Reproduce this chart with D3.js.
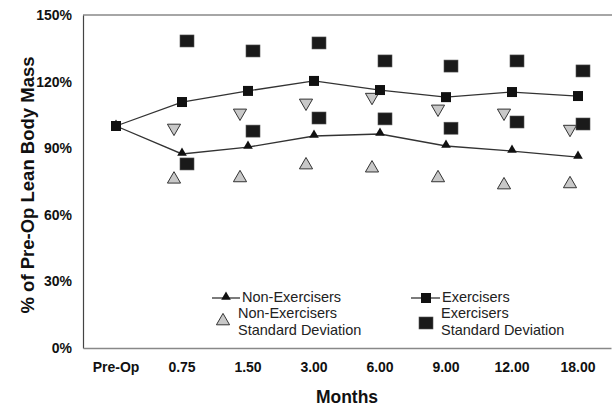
<!DOCTYPE html>
<html>
<head>
<meta charset="utf-8">
<script src="https://cdn.jsdelivr.net/npm/d3@7"></script>
<style>
  body { margin: 0; background: #fff; }
  svg { display: block; font-family: "Liberation Sans", Arial, sans-serif; }
</style>
</head>
<body>
<svg id="chart" width="612" height="406"></svg>
<script>
const width = 612, height = 406;

const months = ["Pre-Op", "0.75", "1.50", "3.00", "6.00", "9.00", "12.00", "18.00"];
const yTicks = [0, 30, 60, 90, 120, 150];

const nonExercisers = [100, 87.4, 90.5, 95.5, 96.4, 91, 88.7, 86];
const exercisers = [100, 110.8, 115.8, 120.3, 116.2, 113, 115.3, 113.5];

// standard deviation markers (no Pre-Op value)
const nonExSdUpper = [null, 99.1, 105.9, 110.4, 113, 107.7, 105.9, 98.6];
const nonExSdLower = [null, 76, 76.6, 82.4, 81, 76.6, 73.4, 73.9];
const exSdUpper = [null, 138.3, 133.8, 137.4, 129.3, 127, 129.3, 124.8];
const exSdLower = [null, 82.9, 97.7, 103.6, 103.2, 99, 101.8, 100.9];

const margin = {left: 83, top: 15, bottom: 58};
const plotBottom = height - margin.bottom;

const svg = d3.select("#chart");

const x = d3.scaleBand()
    .domain(months)
    .range([margin.left, margin.left + 66 * months.length])
    .padding(0);

const y = d3.scaleLinear()
    .domain([0, 150])
    .range([plotBottom, margin.top]);

const cx = m => x(m) + x.bandwidth() / 2;

// frame: top border, left axis, bottom axis
svg.append("line")
    .attr("x1", margin.left).attr("x2", width)
    .attr("y1", y(150)).attr("y2", y(150))
    .attr("stroke", "#888").attr("stroke-width", 1.5);

svg.append("g")
    .attr("transform", `translate(${margin.left},0)`)
    .call(d3.axisLeft(y).tickValues(yTicks).tickSize(0).tickPadding(11).tickFormat(d => d + "%"))
    .call(g => g.select(".domain").attr("stroke", "#444").attr("stroke-width", 1.2))
    .call(g => g.selectAll("text")
        .attr("font-size", "14px").attr("font-weight", "bold")
        .attr("font-family", "Liberation Sans, Arial, sans-serif").attr("fill", "#111"));

svg.append("g")
    .attr("transform", `translate(0,${plotBottom})`)
    .call(d3.axisBottom(x).tickSize(0).tickPadding(14))
    .call(g => g.select(".domain").attr("stroke", "#888").attr("stroke-width", 1.5))
    .call(g => g.selectAll("text")
        .attr("font-size", "14px").attr("font-weight", "bold")
        .attr("font-family", "Liberation Sans, Arial, sans-serif").attr("fill", "#111"));

// axis titles
svg.append("text")
    .attr("transform", "translate(34,185) rotate(-90)")
    .attr("text-anchor", "middle")
    .attr("font-size", "18.5px").attr("font-weight", "bold").attr("fill", "#111")
    .text("% of Pre-Op Lean Body Mass");

svg.append("text")
    .attr("x", 347).attr("y", 403)
    .attr("text-anchor", "middle")
    .attr("font-size", "17.5px").attr("font-weight", "bold").attr("fill", "#111")
    .text("Months");

const triUp = d3.symbol().type(d3.symbolTriangle);
function triPath(size) { return triUp.size(size)(); }

// SD markers
function sdTriangles(vals, flip) {
    svg.append("g").selectAll("path")
        .data(months.map((m, i) => ({m, v: vals[i]})).filter(d => d.v != null))
        .join("path")
        .attr("d", triPath(75))
        .attr("transform", d => `translate(${cx(d.m) - 8},${y(d.v)})` + (flip ? " rotate(180)" : ""))
        .attr("fill", "#c8c8c8").attr("stroke", "#333").attr("stroke-width", 1);
}
function sdSquares(vals) {
    svg.append("g").selectAll("rect")
        .data(months.map((m, i) => ({m, v: vals[i]})).filter(d => d.v != null))
        .join("rect")
        .attr("x", d => cx(d.m) + 5 - 7).attr("y", d => y(d.v) - 6)
        .attr("width", 14).attr("height", 12)
        .attr("fill", "#1a1a1a").attr("stroke", "#555").attr("stroke-width", 0.6);
}
sdTriangles(nonExSdUpper, true);
sdTriangles(nonExSdLower, false);
sdSquares(exSdUpper);
sdSquares(exSdLower);

// lines
const line = d3.line().x((d, i) => cx(months[i])).y(d => y(d));

svg.append("path").datum(nonExercisers)
    .attr("d", line).attr("fill", "none").attr("stroke", "#333").attr("stroke-width", 1.3);
svg.append("path").datum(exercisers)
    .attr("d", line).attr("fill", "none").attr("stroke", "#333").attr("stroke-width", 1.3);

svg.append("g").selectAll("path")
    .data(nonExercisers)
    .join("path")
    .attr("d", triPath(40))
    .attr("transform", (d, i) => `translate(${cx(months[i])},${y(d) - 1})`)
    .attr("fill", "#111");

svg.append("g").selectAll("rect")
    .data(exercisers)
    .join("rect")
    .attr("x", (d, i) => cx(months[i]) - 5).attr("y", d => y(d) - 5)
    .attr("width", 10).attr("height", 10)
    .attr("fill", "#111");

// legend
const legend = svg.append("g").attr("font-size", "14.5px").attr("fill", "#222");

legend.append("line").attr("x1", 212).attr("x2", 240).attr("y1", 298).attr("y2", 298)
    .attr("stroke", "#333").attr("stroke-width", 1.3);
legend.append("path").attr("d", triPath(40)).attr("transform", "translate(226,297)").attr("fill", "#111");
legend.append("text").attr("x", 242).attr("y", 302).text("Non-Exercisers");

legend.append("line").attr("x1", 411).attr("x2", 440).attr("y1", 298).attr("y2", 298)
    .attr("stroke", "#333").attr("stroke-width", 1.3);
legend.append("rect").attr("x", 421).attr("y", 293).attr("width", 10).attr("height", 10).attr("fill", "#111");
legend.append("text").attr("x", 442).attr("y", 302).text("Exercisers");

legend.append("path").attr("d", triPath(75)).attr("transform", "translate(223,321)")
    .attr("fill", "#c8c8c8").attr("stroke", "#333").attr("stroke-width", 1);
legend.append("text").attr("x", 238).attr("y", 318).text("Non-Exercisers");
legend.append("text").attr("x", 238).attr("y", 335).text("Standard Deviation");

legend.append("rect").attr("x", 419).attr("y", 317).attr("width", 14).attr("height", 12)
    .attr("fill", "#1a1a1a").attr("stroke", "#555").attr("stroke-width", 0.6);
legend.append("text").attr("x", 441).attr("y", 318).text("Exercisers");
legend.append("text").attr("x", 441).attr("y", 335).text("Standard Deviation");
</script>
</body>
</html>
